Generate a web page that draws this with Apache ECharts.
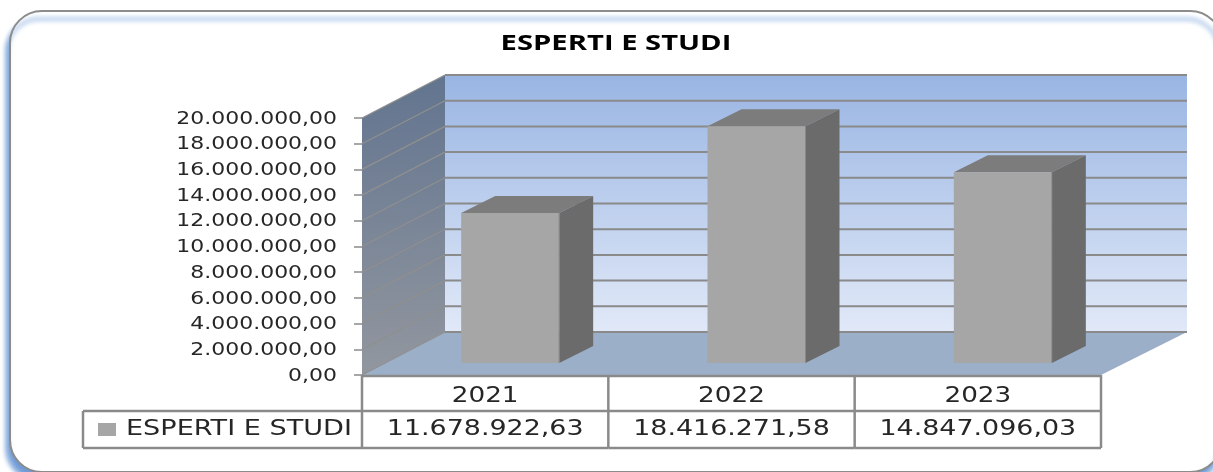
<!DOCTYPE html>
<html>
<head>
<meta charset="utf-8">
<title>ESPERTI E STUDI</title>
<script src="https://cdn.jsdelivr.net/npm/echarts@6/dist/echarts.min.js"></script>
<style>
html, body { margin: 0; padding: 0; background: #fff; overflow: hidden; }
#chart { width: 1213px; height: 472px; }
</style>
</head>
<body>
<div id="chart"></div>
<script>
var titleText = 'ESPERTI E STUDI';
var seriesName = 'ESPERTI E STUDI';
var categories = ['2021', '2022', '2023'];
var values = [11678922.63, 18416271.58, 14847096.03];
var yTicks = [0, 2000000, 4000000, 6000000, 8000000, 10000000, 12000000, 14000000, 16000000, 18000000, 20000000];

var wallDx = 83, wallDy = -43;   // depth of the fake 3d box
var wallExtra = 3;               // back wall runs a bit wider than the front
var barDx = 25, barDy = -12;     // where the bars stand on the floor
var barDepthX = 34, barDepthY = -17, barWidth = 98;
var tableLeft = 83, rowHeader = 411, rowBottom = 448;
var lineColor = '#8a8a8a';
var textColor = '#262626';
var font = '"DejaVu Sans"';

function fmt(v) {
	var parts = v.toFixed(2).split('.');
	return parts[0].replace(/\B(?=(\d{3})+$)/g, '.') + ',' + parts[1];
}

function stretched(text, x, y, size, scale, align) {
	return {
		type : 'text',
		x : x,
		y : y,
		scaleX : scale,
		silent : true,
		style : {
			text : text,
			x : 0,
			y : 0,
			align : align,
			verticalAlign : 'middle',
			fill : textColor,
			font : size + 'px ' + font
		}
	};
}

function line(x1, y1, x2, y2, color, width) {
	return {
		type : 'line',
		silent : true,
		shape : { x1 : x1, y1 : y1, x2 : x2, y2 : y2 },
		style : { stroke : color, lineWidth : width }
	};
}

function poly(points, fill) {
	return {
		type : 'polygon',
		silent : true,
		shape : { points : points },
		style : { fill : fill }
	};
}

function renderWalls(params, api) {
	if (params.dataIndex != 0) {
		return;
	}
	var cs = params.coordSys;
	var l = cs.x, r = cs.x + cs.width, t = cs.y, b = cs.y + cs.height;
	var backR = r + wallDx + wallExtra;
	var kids = [];
	kids.push(poly([[l + wallDx, t + wallDy], [backR, t + wallDy], [backR, b + wallDy], [l + wallDx, b + wallDy]],
		new echarts.graphic.LinearGradient(0, 0, 0, 1, [
			{ offset : 0, color : '#99b5e3' },
			{ offset : 1, color : '#e1e9f8' }
		])));
	kids.push(poly([[l, t], [l + wallDx, t + wallDy], [l + wallDx, b + wallDy], [l, b]],
		new echarts.graphic.LinearGradient(0, 0, 0, 1, [
			{ offset : 0, color : '#62748f' },
			{ offset : 1, color : '#92979f' }
		])));
	kids.push(poly([[l, b], [l + wallDx, b + wallDy], [backR, b + wallDy], [r, b]], '#9bafc8'));
	yTicks.forEach(function(tick) {
		var y = api.coord([0, tick])[1];
		kids.push(line(l, y, l + wallDx, y + wallDy, '#8f8f8f', 1.2));
		kids.push(line(l + wallDx, y + wallDy, backR, y + wallDy, lineColor, 2));
	});
	return { type : 'group', children : kids };
}

function renderBar(params, api) {
	var top = api.coord([api.value(0), api.value(1)]);
	var base = api.coord([api.value(0), 0]);
	var x0 = top[0] + barDx - barWidth / 2, x1 = x0 + barWidth;
	var y0 = top[1] + barDy, y1 = base[1] + barDy;
	return {
		type : 'group',
		children : [
			poly([[x0, y0], [x0 + barDepthX, y0 + barDepthY], [x1 + barDepthX, y0 + barDepthY], [x1, y0]], '#7c7c7c'),
			poly([[x1, y0], [x1 + barDepthX, y0 + barDepthY], [x1 + barDepthX, y1 + barDepthY], [x1, y1]], '#6b6b6b'),
			poly([[x0, y0], [x1, y0], [x1, y1], [x0, y1]], '#a6a6a6'),
			line(x1, y0, x1, y1, '#888888', 1)
		]
	};
}

function renderYLabel(params, api) {
	var y = api.coord([0, api.value(1)])[1];
	return stretched(fmt(api.value(1)), 337, y + 1, 18, 1.22, 'right');
}

function renderTable(params, api) {
	var c = api.coord([api.value(0), 0]);
	var w = api.size([1, 0])[0];
	var kids = [];
	var right = c[0] + w / 2;
	var b = c[1];
	kids.push(line(right, b, right, rowBottom, lineColor, 2.5));
	kids.push(line(c[0] - w / 2, rowHeader, right, rowHeader, lineColor, 2.5));
	kids.push(line(c[0] - w / 2, rowBottom, right, rowBottom, lineColor, 2.5));
	kids.push(line(c[0] - w / 2, b + 1, right, b + 1, lineColor, 2.5));
	kids.push(stretched(categories[api.value(0)], c[0], 397, 21, 1.25, 'center'));
	kids.push(stretched(fmt(api.value(1)), c[0], 430, 21, 1.28, 'center'));
	if (params.dataIndex == 0) {
		var l = c[0] - w / 2;
		kids.push(line(l, b, l, rowBottom, lineColor, 2.5));
		kids.push(line(tableLeft, rowHeader, l, rowHeader, lineColor, 2.5));
		kids.push(line(tableLeft, rowBottom, l, rowBottom, lineColor, 2.5));
		kids.push(line(tableLeft, rowHeader, tableLeft, rowBottom, lineColor, 2.5));
		kids.push({
			type : 'rect',
			silent : true,
			shape : { x : 98, y : 423, width : 18, height : 13 },
			style : { fill : '#a6a6a6' }
		});
		kids.push(stretched(seriesName, 126, 430, 21, 1.29, 'left'));
	}
	return { type : 'group', children : kids };
}

var myChart = echarts.init(document.getElementById('chart'));
var barData = values.map(function(v, i) {
	return [i, v];
});
var tickData = yTicks.map(function(v) {
	return [0, v];
});

myChart.setOption({
	animation : false,
	backgroundColor : '#ffffff',
	graphic : [ {
		type : 'rect',
		z : -10,
		silent : true,
		shape : { x : 10, y : 11, width : 1212, height : 461, r : 32 },
		style : {
			fill : '#ffffff',
			stroke : '#8c8c8c',
			lineWidth : 2,
			shadowColor : '#6f9bd6',
			shadowBlur : 5,
			shadowOffsetX : -3,
			shadowOffsetY : 8
		}
	}, {
		type : 'text',
		x : 616,
		y : 44,
		scaleX : 1.39,
		silent : true,
		style : {
			text : titleText,
			x : 0,
			y : 0,
			align : 'center',
			verticalAlign : 'middle',
			fill : '#000000',
			font : 'bold 21px "Open Sans"'
		}
	} ],
	grid : { left : 362, right : 112, top : 118, bottom : 97 },
	xAxis : {
		type : 'category',
		data : categories,
		axisLine : { show : false },
		axisTick : { show : false },
		axisLabel : { show : false }
	},
	yAxis : {
		type : 'value',
		min : 0,
		max : 20000000,
		interval : 2000000,
		splitLine : { show : false },
		axisLine : { show : false },
		axisLabel : { show : false },
		axisTick : { show : true, length : 8, lineStyle : { color : lineColor, width : 1.5 } }
	},
	series : [ {
		type : 'custom',
		name : 'walls',
		z : 1,
		clip : false,
		data : tickData,
		renderItem : renderWalls
	}, {
		type : 'custom',
		name : seriesName,
		z : 3,
		clip : false,
		data : barData,
		renderItem : renderBar
	}, {
		type : 'custom',
		name : 'ticks',
		z : 4,
		clip : false,
		data : tickData,
		renderItem : renderYLabel
	}, {
		type : 'custom',
		name : 'table',
		z : 4,
		clip : false,
		data : barData,
		renderItem : renderTable
	} ]
});
</script>
</body>
</html>
